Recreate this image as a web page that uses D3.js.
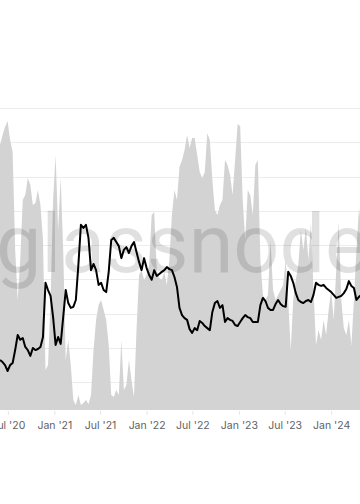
<!DOCTYPE html>
<html>
<head>
<meta charset="utf-8">
<title>glassnode chart</title>
<script src="https://cdn.jsdelivr.net/npm/d3@7"></script>
<style>
  html, body { margin: 0; padding: 0; background: #fff; }
  svg { display: block; }
  .tick text { font-family: Inter, "Open Sans", sans-serif; font-size: 10.5px; fill: #5f5f5f; }
</style>
</head>
<body>
<script>
var width = 360,
    height = 504;

// sample dates: every 10 days from 2020-05-31
var startDate = new Date(2020, 4, 31),
    stepDays = 10;

// gray area (0..1 oscillator)
var areaValues = [
  0.883, 0.917, 0.943, 0.963, 0.900, 0.860, 0.533, 0.367, 0.500, 0.700,
  0.717, 0.773, 0.750, 0.683, 0.690, 0.733, 0.683, 0.567, 0.133, 0.150,
  0.367, 0.700, 0.850, 0.600, 0.773, 0.533, 0.167, 0.233, 0.150, 0.033,
  0.017, 0.050, 0.017, 0.023, 0.033, 0.020, 0.050, 0.200, 0.300, 0.350,
  0.367, 0.333, 0.300, 0.217, 0.050, 0.043, 0.067, 0.050, 0.233, 0.067,
  0.083, 0.167, 0.100, 0.043, 0.267, 0.450, 0.467, 0.433, 0.450, 0.483,
  0.650, 0.660, 0.467, 0.440, 0.433, 0.460, 0.417, 0.500, 0.650, 0.733,
  0.700, 0.810, 0.833, 0.867, 0.917, 0.873, 0.907, 0.907, 0.850, 0.793,
  0.773, 0.793, 0.923, 0.900, 0.767, 0.667, 0.650, 0.683, 0.700, 0.833,
  0.817, 0.783, 0.717, 0.833, 0.953, 0.947, 0.700, 0.567, 0.733, 0.717,
  0.650, 0.817, 0.833, 0.500, 0.383, 0.367, 0.383, 0.567, 0.400, 0.367,
  0.383, 0.400, 0.417, 0.500, 0.367, 0.200, 0.367, 0.433, 0.483, 0.600,
  0.533, 0.607, 0.500, 0.623, 0.400, 0.217, 0.267, 0.233, 0.300, 0.250,
  0.333, 0.400, 0.300, 0.467, 0.627, 0.367, 0.273, 0.250, 0.300, 0.217,
  0.367, 0.533, 0.673, 0.600
];

// black line (price-like, right scale 0..9)
var lineValues = [
  1.65, 1.59, 1.50, 1.33, 1.50, 1.56, 1.94, 2.38, 2.24, 2.29,
  2.03, 1.94, 1.77, 2.00, 1.94, 1.97, 2.03, 2.32, 3.90, 3.69,
  3.52, 2.90, 2.09, 2.32, 2.12, 2.90, 3.69, 3.31, 3.17, 3.20,
  3.40, 4.42, 5.59, 5.50, 5.59, 5.21, 4.27, 4.45, 4.27, 3.84,
  3.90, 3.69, 3.63, 4.22, 5.15, 5.21, 5.09, 4.97, 4.62, 4.86,
  4.94, 4.77, 4.97, 5.09, 4.80, 4.51, 4.27, 4.62, 4.33, 4.13,
  3.99, 4.27, 4.10, 4.16, 4.22, 4.27, 4.36, 4.30, 4.27, 4.07,
  3.78, 3.17, 2.96, 2.87, 2.82, 2.55, 2.44, 2.58, 2.52, 2.79,
  2.73, 2.64, 2.58, 2.52, 3.05, 3.31, 3.37, 3.17, 3.25, 2.76,
  2.87, 2.82, 2.79, 2.67, 2.64, 2.76, 2.87, 2.96, 2.90, 2.87,
  2.76, 2.76, 2.76, 3.25, 3.46, 3.37, 3.17, 3.11, 3.11, 3.28,
  3.40, 3.28, 3.22, 3.20, 4.22, 4.10, 3.90, 3.60, 3.40, 3.34,
  3.31, 3.37, 3.40, 3.34, 3.55, 3.90, 3.84, 3.81, 3.84, 3.75,
  3.69, 3.63, 3.55, 3.46, 3.49, 3.52, 3.60, 3.72, 3.95, 3.81,
  3.75, 3.40, 3.49, 3.55
];

var tickDates = ["2020-07-01", "2021-01-01", "2021-07-01", "2022-01-01",
                 "2022-07-01", "2023-01-01", "2023-07-01", "2024-01-01"];

var n = Math.min(areaValues.length, lineValues.length);
var data = [];
for (var i = 0; i < n; i++) {
  data.push({
    date: d3.timeDay.offset(startDate, i * stepDays),
    area: areaValues[i],
    line: lineValues[i]
  });
}

var x = d3.scaleTime()
    .domain([new Date(2020, 4, 31), new Date(2024, 3, 24)])
    .range([0, width]);

var yArea = d3.scaleLinear().domain([0, 1]).range([410, 110]);
var yLine = d3.scaleLinear().domain([0, 9]).range([416.6, 107.9]);

var svg = d3.select("body").append("svg")
    .attr("width", width)
    .attr("height", height);

// grid lines
svg.append("g")
  .selectAll("line")
  .data(d3.range(1, 10))
  .join("line")
    .attr("x1", 0)
    .attr("x2", width)
    .attr("y1", function(d) { return Math.round(yLine(d)) + 0.5; })
    .attr("y2", function(d) { return Math.round(yLine(d)) + 0.5; })
    .attr("stroke", "#ececec")
    .attr("stroke-width", 1);

// gray area
var area = d3.area()
    .x(function(d) { return x(d.date); })
    .y0(yArea(0))
    .y1(function(d) { return yArea(d.area); });

svg.append("path")
    .datum(data)
    .attr("fill", "#d3d3d3")
    .attr("d", area);

// watermark
svg.append("text")
    .attr("x", -4)
    .attr("y", 272)
    .attr("textLength", 372)
    .attr("lengthAdjust", "spacingAndGlyphs")
    .style("font-family", "Roboto, sans-serif")
    .style("font-weight", 400)
    .style("font-size", "82px")
    .style("fill", "#000")
    .style("fill-opacity", 0.12)
    .text("glassnode");

// black line
var line = d3.line()
    .x(function(d) { return x(d.date); })
    .y(function(d) { return yLine(d.line); });

svg.append("path")
    .datum(data)
    .attr("fill", "none")
    .attr("stroke", "#000")
    .attr("stroke-width", 2)
    .attr("stroke-linejoin", "round")
    .attr("d", line);

// x axis
var fmt = d3.timeFormat("%b '%y");
var xAxis = d3.axisBottom(x)
    .tickValues(tickDates.map(function(s) { return d3.timeParse("%Y-%m-%d")(s); }))
    .tickFormat(fmt)
    .tickSize(4)
    .tickPadding(7);

var gx = svg.append("g")
    .attr("transform", "translate(0,411)")
    .call(xAxis);
gx.select(".domain").remove();
gx.selectAll(".tick line").attr("stroke", "#e6e6e6");
</script>
</body>
</html>
